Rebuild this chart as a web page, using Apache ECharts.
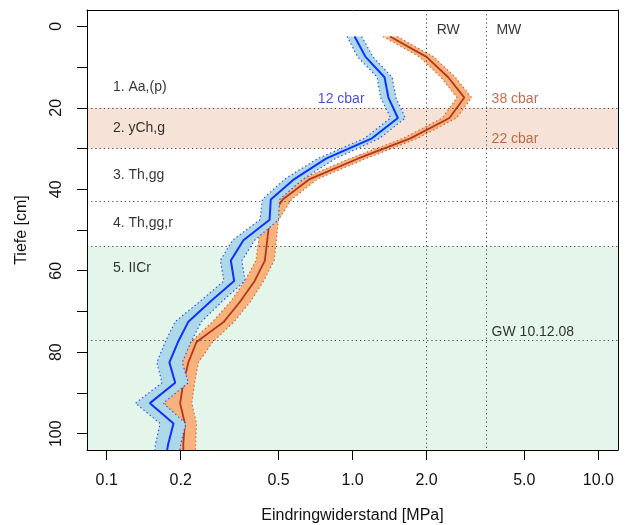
<!DOCTYPE html>
<html><head><meta charset="utf-8">
<script src="https://cdn.jsdelivr.net/npm/echarts@6/dist/echarts.min.js"></script>
<style>html,body{margin:0;padding:0;background:#fff}#c{width:628px;height:525px}</style>
</head><body><div id="c"></div>
<script>
// depth [cm]
const depth = [2.5,7.5,12.5,17.5,22.5,27.5,32.5,37.5,42.5,47.5,52.5,57.5,62.5,67.5,72.5,77.5,82.5,87.5,92.5,97.5,102.5,107.5];
// 12 cbar series (blue) [MPa]
const blueMean = [1.02,1.13,1.35,1.40,1.53,1.20,0.78,0.58,0.465,0.46,0.36,0.32,0.33,0.265,0.215,0.195,0.18,0.19,0.15,0.187,0.178,0.172];
const blueLow  = [0.95,1.05,1.26,1.30,1.43,1.12,0.72,0.53,0.43,0.42,0.325,0.29,0.30,0.24,0.19,0.173,0.16,0.168,0.131,0.165,0.158,0.155];
const blueHigh = [1.09,1.21,1.45,1.50,1.64,1.29,0.85,0.63,0.505,0.50,0.40,0.355,0.365,0.295,0.243,0.22,0.203,0.215,0.17,0.21,0.20,0.195];
// 38/22 cbar series (orange) [MPa]
const orangeMean = [1.42,2.0,2.45,2.85,2.48,1.72,1.05,0.67,0.52,0.46,0.45,0.44,0.40,0.35,0.30,0.232,0.215,0.205,0.199,0.208,0.205,0.205];
const orangeLow  = [1.33,1.87,2.29,2.66,2.32,1.61,0.97,0.62,0.48,0.425,0.415,0.405,0.365,0.32,0.27,0.22,0.199,0.181,0.172,0.196,0.19,0.19];
const orangeHigh = [1.52,2.14,2.62,3.05,2.65,1.84,1.13,0.72,0.565,0.50,0.49,0.48,0.435,0.385,0.33,0.27,0.236,0.228,0.222,0.232,0.23,0.23];
// horizon boundaries and reference values
const layerLines = [20,30,43,54,77];
const shadedLayers = [[20,30],[54,104]];
const refLines = [2.0,3.5];
// tick values
const xTicks = [0.1,0.2,0.5,1,2,5,10];
const yTicks = [0,10,20,30,40,50,60,70,80,90,100];
const yLabels = [0,20,40,60,80,100];
// annotations
const annoText = ['1. Aa,(p)','2. yCh,g','3. Th,gg','4. Th,gg,r','5. IICr','RW','MW','12 cbar','38 cbar','22 cbar','GW 10.12.08'];
const annoX = [0.106,0.106,0.106,0.106,0.106,2.2,3.85,0.723,3.68,3.68,3.68];
const annoY = [15,25,36.5,48.3,59.3,1,1,18,18,27.8,75];

const annoColors = ['#000','#000','#000','#000','#000','#000','#000','#1f22d0','#b4491f','#b4491f','#000'];
const FONT = 'Liberation Sans, Arial, Helvetica, sans-serif';
const xMin = Math.pow(10,-1.08), xMax = Math.pow(10,1.08);

function pairs(xs){ return xs.map((v,i)=>[v, depth[i]]); }
function band(low, high, fill, z){
  return { type:'custom', z, silent:true, clip:true, data:[[1,50]], encode:{x:0,y:1},
    renderItem:(params, api)=>{
      const pts = [];
      for (let i=0;i<depth.length;i++) pts.push(api.coord([low[i], depth[i]]));
      for (let i=depth.length-1;i>=0;i--) pts.push(api.coord([high[i], depth[i]]));
      return {type:'polygon', shape:{points:pts}, style:{fill:fill}};
    }};
}
function line(xs, color, width, type, z){
  return {type:'line', z, data:pairs(xs), symbol:'none', silent:true, animation:false, clip:true,
    lineStyle:{color, width, type}};
}
const dot = [1.4,2.6];
const chart = echarts.init(document.getElementById('c'));
const baseAxisX = {type:'log', logBase:10, min:xMin, max:xMax, splitLine:{show:false}};
const baseAxisY = {type:'value', inverse:true, min:-4, max:104, splitLine:{show:false}};
const boxLine = {show:true, onZero:false, lineStyle:{color:'#000', width:1}};
chart.setOption({
  animation:false,
  textStyle:{fontFamily:FONT},
  grid:{left:87, right:10, top:10, bottom:75, containLabel:false, outerBoundsMode:'none'},
  xAxis:[
    Object.assign({}, baseAxisX, {position:'bottom', z:10,
      name:'Eindringwiderstand [MPa]', nameLocation:'middle', nameGap:58,
      nameTextStyle:{fontSize:16, color:'#111', fontFamily:FONT},
      axisLine:boxLine,
      axisTick:{show:true, length:10, lineStyle:{color:'#000'}, customValues:xTicks},
      axisLabel:{show:true, margin:23, fontSize:16, color:'#111', fontFamily:FONT,
        customValues:xTicks, formatter:v=>Number(v).toFixed(1)}}),
    Object.assign({}, baseAxisX, {position:'top', z:10,
      axisLine:boxLine, axisTick:{show:false}, axisLabel:{show:false}})
  ],
  yAxis:[
    Object.assign({}, baseAxisY, {position:'left', z:10,
      name:'Tiefe [cm]', nameLocation:'middle', nameGap:57, nameRotate:90,
      nameTextStyle:{fontSize:16, color:'#111', fontFamily:FONT},
      axisLine:boxLine,
      axisTick:{show:true, length:10, lineStyle:{color:'#000'}, customValues:yTicks},
      axisLabel:{show:true, margin:22, fontSize:16, color:'#111', rotate:90, fontFamily:FONT,
        customValues:yLabels}}),
    Object.assign({}, baseAxisY, {position:'right', z:10,
      axisLine:boxLine, axisTick:{show:false}, axisLabel:{show:false}})
  ],
  series:[
    {type:'line', z:0, data:[], silent:true,
      markArea:{silent:true, data:shadedLayers.map((r,i)=>[
        {yAxis:r[0], itemStyle:{color: i===0 ? '#f6e2d6' : '#e4f5ea'}}, {yAxis:r[1]}])},
      markLine:{silent:true, symbol:'none', label:{show:false},
        lineStyle:{color:'#444', width:1, type:[1.2,3]},
        data: layerLines.map(v=>({yAxis:v})).concat(refLines.map(v=>({xAxis:v})))}
    },
    band(orangeLow, orangeHigh, '#f7b37b', 2),
    line(orangeLow, '#d4663f', 1.2, dot, 3),
    line(orangeHigh, '#d4663f', 1.2, dot, 3),
    line(orangeMean, '#b3371f', 1.8, 'solid', 4),
    band(blueLow, blueHigh, '#acd8e8', 5),
    line(blueLow, '#2f4cff', 1.2, dot, 6),
    line(blueHigh, '#2f4cff', 1.2, dot, 6),
    line(blueMean, '#1030ff', 2, 'solid', 7),
    {type:'scatter', z:8, silent:true, symbolSize:0,
      data: annoText.map((t,i)=>({name:t, value:[annoX[i], annoY[i]],
        label:{color:annoColors[i]}})),
      label:{show:true, position:'right', distance:0, formatter:'{b}', fontSize:14, fontFamily:FONT}}
  ]
});
</script></body></html>
